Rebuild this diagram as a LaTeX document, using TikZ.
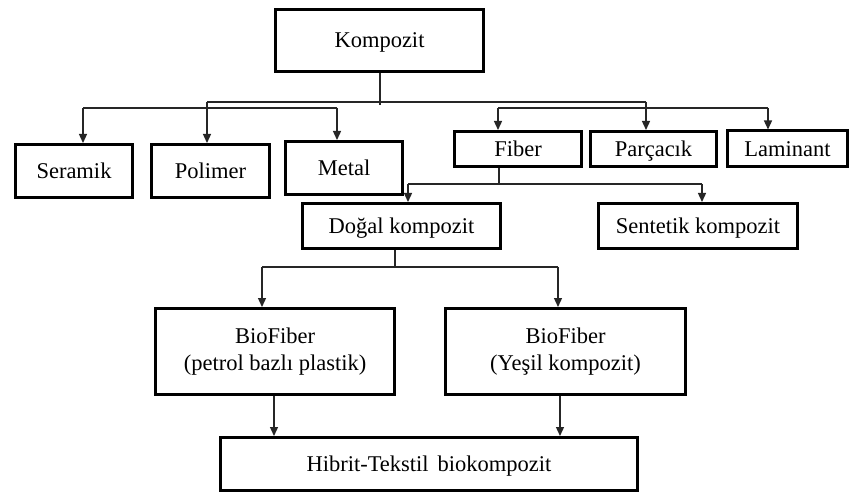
\documentclass[tikz,border=0pt]{standalone}
\usepackage{fontspec}
\setmainfont{Liberation Serif}
\usetikzlibrary{arrows.meta}
\begin{document}
\begin{tikzpicture}[x=1pt,y=-1pt,
  box/.style={draw=black,line width=3pt,rectangle,inner sep=0pt,align=center,
    font=\fontsize{22.5}{27.5}\selectfont},
  one/.style={text height=15.5pt,text depth=0.5pt},
  conn/.style={draw=black!85,line width=1.3pt},
  arr/.style={conn,-{Triangle[length=9pt,width=8pt]}}]
\useasboundingbox (0,0) rectangle (851,494);
\fill[white] (0,0) rectangle (851,494);
% boxes
\node[box,one,minimum width=208pt,minimum height=62pt] (komp) at (379.5,40.5) {Kompozit};
\node[box,one,minimum width=117pt,minimum height=53pt] (seramik) at (74,171) {Seramik};
\node[box,one,minimum width=118pt,minimum height=53pt] (polimer) at (210.5,171) {Polimer};
\node[box,one,minimum width=117pt,minimum height=53pt] (metal) at (344,168) {Metal};
\node[box,one,minimum width=127pt,minimum height=35pt] (fiber) at (518,149) {Fiber};
\node[box,one,minimum width=126pt,minimum height=35pt] (parc) at (653.5,149) {Parçacık};
\node[box,one,minimum width=120pt,minimum height=36pt] (lamin) at (787.5,149) {Laminant};
\node[box,one,minimum width=198pt,minimum height=45pt] (dogal) at (401.5,226) {Doğal kompozit};
\node[box,one,minimum width=199pt,minimum height=45pt] (sentetik) at (698,226) {Sentetik kompozit};
\node[box,minimum width=239pt,minimum height=86pt] (bio1) at (275,351.5) {BioFiber\\(petrol bazlı plastik)};
\node[box,minimum width=240pt,minimum height=86pt] (bio2) at (565.5,351.5) {BioFiber\\(Yeşil kompozit)};
\node[box,one,minimum width=417pt,minimum height=53pt] (hibrit) at (429,464) {Hibrit-Tekstil\hspace{0.4em}biokompozit};
% top level buses
\coordinate (ks) at (380,105);
\coordinate (u1) at (207,102);
\coordinate (u2) at (646,102);
\coordinate (l1) at (83,108);
\coordinate (l2) at (337,108);
\coordinate (l3) at (498,108);
\coordinate (l4) at (768,108);
\draw[conn] (komp.south -| ks) -- (ks);
\draw[conn] (u1) -- (u2);
\draw[conn] (l1) -- (l2);
\draw[conn] (l3) -- (l4);
\draw[arr] (u1) -- (u1 |- polimer.north);
\draw[arr] (u2) -- (u2 |- parc.north);
\draw[arr] (l1) -- (l1 |- seramik.north);
\draw[arr] (l2) -- (l2 |- metal.north);
\draw[arr] (l3) -- (l3 |- fiber.north);
\draw[arr] (l4) -- (l4 |- lamin.north);
% fiber bus
\coordinate (fs) at (499,184);
\coordinate (f1) at (408,184);
\coordinate (f2) at (702,184);
\draw[conn] (fiber.south -| fs) -- (fs);
\draw[conn] (f1) -- (f2);
\draw[arr] (f1) -- (f1 |- dogal.north);
\draw[arr] (f2) -- (f2 |- sentetik.north);
% dogal bus
\coordinate (ds) at (395,267);
\coordinate (d1) at (262,267);
\coordinate (d2) at (558,267);
\draw[conn] (dogal.south -| ds) -- (ds);
\draw[conn] (d1) -- (d2);
\draw[arr] (d1) -- (d1 |- bio1.north);
\draw[arr] (d2) -- (d2 |- bio2.north);
% to hibrit
\coordinate (h1) at (274,0);
\coordinate (h2) at (560,0);
\draw[arr] (bio1.south -| h1) -- (hibrit.north -| h1);
\draw[arr] (bio2.south -| h2) -- (hibrit.north -| h2);
\end{tikzpicture}
\end{document}
